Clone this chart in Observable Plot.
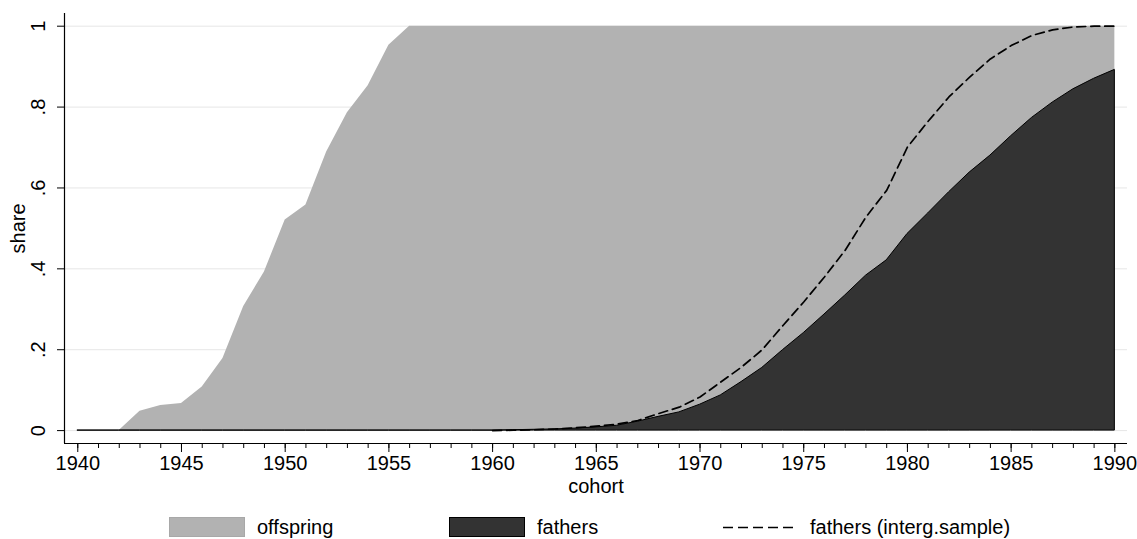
<!DOCTYPE html>
<html>
<head>
<meta charset="utf-8">
<script src="https://cdn.jsdelivr.net/npm/d3@7"></script>
<script src="https://cdn.jsdelivr.net/npm/@observablehq/plot@0.6"></script>
<style>
  html, body { margin: 0; padding: 0; background: #fff; }
  body { width: 1137px; height: 539px; overflow: hidden; font-family: "Liberation Sans", Arial, Helvetica, sans-serif; }
  #legend { position: relative; width: 1137px; height: 34px; font-size: 20px; color: #000; }
  #legend .sw { position: absolute; top: 12px; width: 76px; height: 20px; box-sizing: border-box; }
  #legend .lab { position: absolute; top: 12px; line-height: 20px; white-space: nowrap; }
  #legend svg { position: absolute; left: 0; top: 0; }
</style>
</head>
<body>
<div id="chart"></div>
<div id="legend"></div>
<script>
// ---- data ----
const years = [1940,1941,1942,1943,1944,1945,1946,1947,1948,1949,
               1950,1951,1952,1953,1954,1955,1956,1957,1958,1959,
               1960,1961,1962,1963,1964,1965,1966,1967,1968,1969,
               1970,1971,1972,1973,1974,1975,1976,1977,1978,1979,
               1980,1981,1982,1983,1984,1985,1986,1987,1988,1989,1990];
const offspring = [0,0,0,0.048,0.062,0.067,0.108,0.178,0.307,0.392,
                   0.521,0.558,0.689,0.786,0.853,0.953,1,1,1,1,
                   1,1,1,1,1,1,1,1,1,1,
                   1,1,1,1,1,1,1,1,1,1,
                   1,1,1,1,1,1,1,1,1,1,1];
const fathers = [0,0,0,0,0,0,0,0,0,0,
                 0,0,0,0,0,0,0,0,0,0,
                 0,0.001,0.002,0.003,0.005,0.008,0.012,0.022,0.034,0.045,
                 0.064,0.087,0.12,0.155,0.199,0.241,0.287,0.334,0.383,0.421,
                 0.486,0.537,0.589,0.638,0.68,0.728,0.773,0.811,0.844,0.87,0.892];
const intergYears = [1960,1961,1962,1963,1964,1965,1966,1967,1968,1969,
                     1970,1971,1972,1973,1974,1975,1976,1977,1978,1979,
                     1980,1981,1982,1983,1984,1985,1986,1987,1988,1989,1990];
const fathersInterg = [0,0.001,0.002,0.004,0.007,0.011,0.016,0.025,0.042,0.058,
                       0.083,0.12,0.157,0.2,0.26,0.318,0.38,0.446,0.528,0.594,
                       0.701,0.765,0.825,0.874,0.919,0.952,0.977,0.991,0.998,1,1];
const xMajorTicks = [1940,1945,1950,1955,1960,1965,1970,1975,1980,1985,1990];
const yTicks = [0,0.2,0.4,0.6,0.8,1];
const yTickLabels = ["0",".2",".4",".6",".8","1"];
const seriesNames = ["offspring","fathers","fathers (interg.sample)"];
const xTitle = "cohort";
const yTitle = "share";

// ---- build tables ----
const table = years.map((year, i) => ({year, offspring: offspring[i], fathers: fathers[i]}));
const interg = intergYears.map((year, i) => ({year, value: fathersInterg[i]}));
const yTickTable = yTicks.map((v, i) => ({v, label: yTickLabels[i]}));
const xMinorTicks = years;

const xDomain = [1939.36, 1990.61];
const yDomain = [-0.0319, 1.0314];
const FS = 20;
const offspringColor = "#b2b2b2";
const fathersColor = "#333333";

const chart = Plot.plot({
  width: 1137,
  height: 505,
  marginLeft: 64,
  marginRight: 10,
  marginTop: 13,
  marginBottom: 62,
  style: {fontFamily: '"Liberation Sans", Arial, Helvetica, sans-serif', fontSize: FS + "px", color: "#000", background: "#fff"},
  x: {domain: xDomain, axis: null},
  y: {domain: yDomain, axis: null},
  marks: [
    Plot.ruleY(yTicks, {stroke: "#e6e6e6", strokeWidth: 1}),
    Plot.areaY(table, {x: "year", y1: 0, y2: "offspring", fill: offspringColor}),
    Plot.areaY(table, {x: "year", y1: 0, y2: "fathers", fill: fathersColor, stroke: "#000", strokeWidth: 1}),
    Plot.line(interg, {x: "year", y: "value", stroke: "#000", strokeWidth: 1.7, strokeDasharray: "9,5"}),
    // axis lines
    Plot.ruleX([xDomain[0]], {stroke: "#000", strokeWidth: 1.2}),
    Plot.ruleY([yDomain[0]], {stroke: "#000", strokeWidth: 1.2}),
    // x ticks
    Plot.axisX({ticks: xMinorTicks, tickSize: 5, tickFormat: () => "", label: null}),
    Plot.axisX({ticks: xMajorTicks, tickSize: 9, tickPadding: 3, tickFormat: d => String(d), label: null, fontSize: FS}),
    // y ticks
    Plot.axisY({ticks: yTicks, tickSize: 7, tickFormat: () => "", label: null}),
    Plot.text(yTickTable, {y: "v", text: "label", frameAnchor: "left", rotate: -90, dx: -26, textAnchor: "middle", lineAnchor: "middle", fontSize: FS, fill: "#000"}),
    // titles
    Plot.text([yTitle], {y: 0.5, frameAnchor: "left", rotate: -90, dx: -46, textAnchor: "middle", lineAnchor: "middle", fontSize: FS, fill: "#000"}),
    Plot.text([xTitle], {frameAnchor: "bottom", dy: 35, lineAnchor: "top", textAnchor: "middle", fontSize: FS, fill: "#000"})
  ]
});
document.getElementById("chart").appendChild(chart);

// ---- legend (HTML below the SVG) ----
const legend = document.getElementById("legend");
legend.innerHTML = `
  <div class="sw" style="left:169px;background:${offspringColor};border:1px solid #a8a8a8"></div>
  <div class="lab" style="left:257px">${seriesNames[0]}</div>
  <div class="sw" style="left:449px;background:${fathersColor};border:1px solid #000"></div>
  <div class="lab" style="left:537px">${seriesNames[1]}</div>
  <svg width="1137" height="34"><line x1="723" x2="798" y1="22.5" y2="22.5" stroke="#000" stroke-width="1.7" stroke-dasharray="10,5"></line></svg>
  <div class="lab" style="left:810px">${seriesNames[2]}</div>
`;
</script>
</body>
</html>
